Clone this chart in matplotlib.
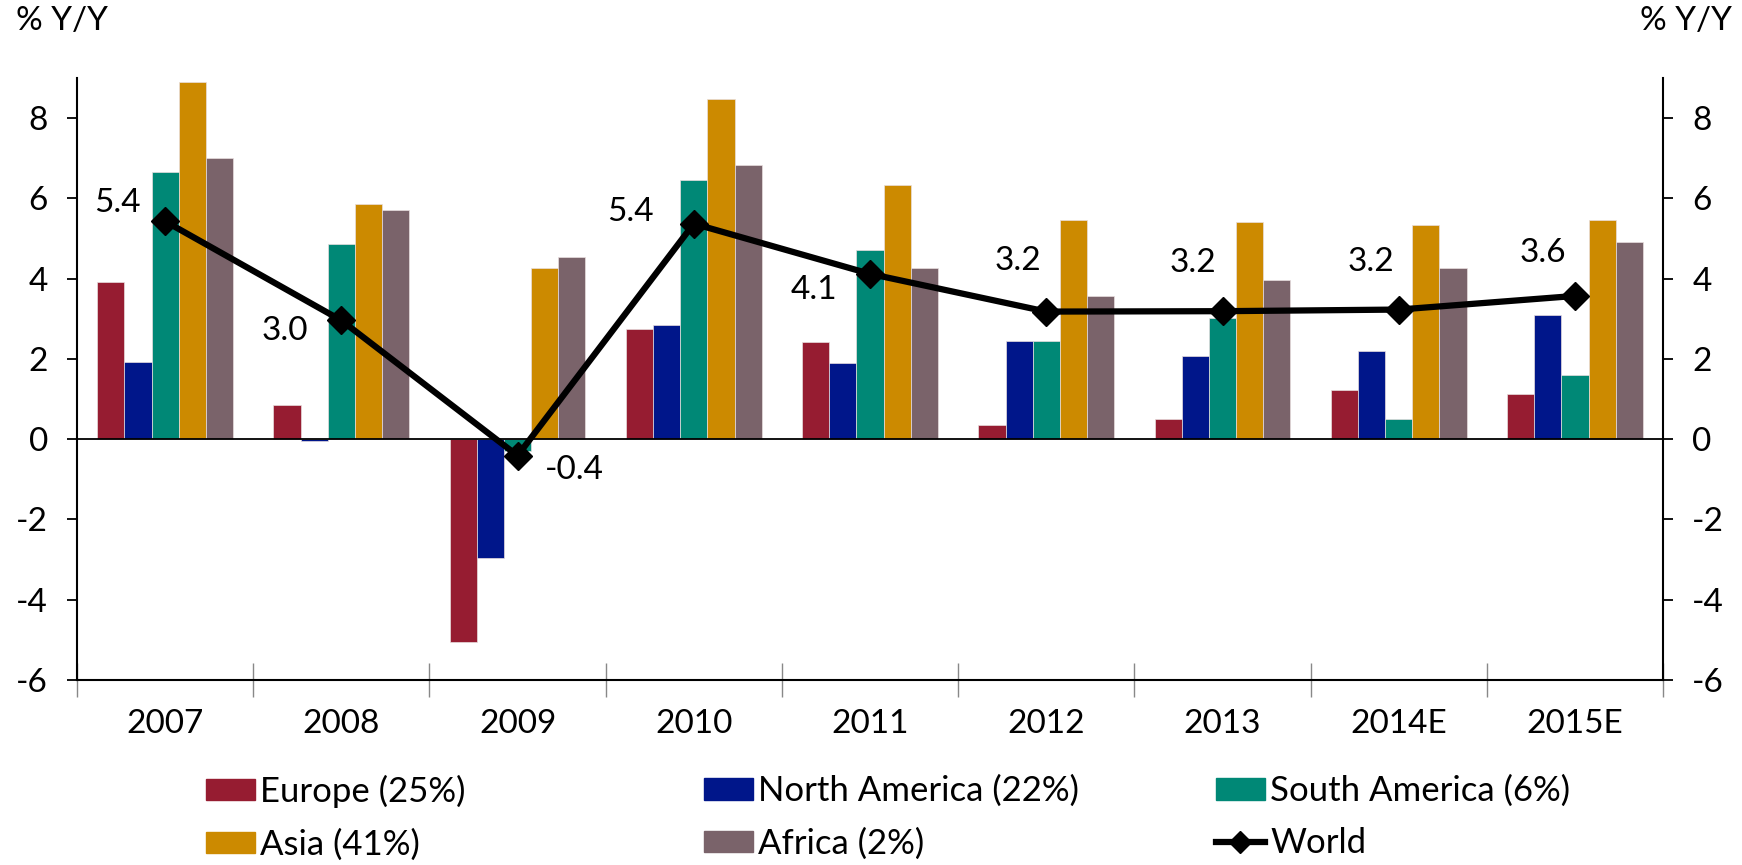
import numpy as np
import matplotlib
matplotlib.use('Agg')
import matplotlib.pyplot as plt
from matplotlib.patches import Patch
from matplotlib.lines import Line2D

# data
years = ['2007', '2008', '2009', '2010', '2011', '2012', '2013', '2014E', '2015E']
europe = [3.92, 0.85, -5.06, 2.74, 2.42, 0.36, 0.51, 1.23, 1.12]
north_america = [1.92, -0.04, -2.95, 2.84, 1.91, 2.44, 2.07, 2.21, 3.09]
south_america = [6.67, 4.86, -0.29, 6.46, 4.71, 2.44, 3.03, 0.51, 1.59]
asia = [8.89, 5.85, 4.26, 8.47, 6.33, 5.46, 5.41, 5.34, 5.45]
africa = [7.00, 5.70, 4.54, 6.84, 4.27, 3.56, 3.96, 4.27, 4.91]
world = [5.43, 2.96, -0.41, 5.37, 4.12, 3.18, 3.19, 3.23, 3.57]
world_labels = ['5.4', '3.0', '-0.4', '5.4', '4.1', '3.2', '3.2', '3.2', '3.6']

plt.rcParams['font.family'] = ['Lato', 'DejaVu Sans']
plt.rcParams['axes.unicode_minus'] = False
FS = 24
LFS = 25

fig = plt.figure(figsize=(17.42, 8.65), dpi=100)
ax = fig.add_axes([0.0442, 0.2139, 0.9105, 0.6959])

series = [
    (europe, '#961C31', 'Europe (25%)'),
    (north_america, '#00168A', 'North America (22%)'),
    (south_america, '#008876', 'South America (6%)'),
    (asia, '#CC8A00', 'Asia (41%)'),
    (africa, '#7A636A', 'Africa (2%)'),
]

x = np.arange(len(years))
w = 0.154
for i, (vals, col, lab) in enumerate(series):
    ax.bar(x + (i - 2) * w, vals, w, color=col, edgecolor='#e8dede', linewidth=0.5, zorder=2)

ax.axhline(0, color='black', lw=1.3, zorder=3)
ax.plot(x, world, color='black', lw=4.5, marker='D', markersize=14, zorder=5)

# label offsets (dx in categories, dy in % points)
offsets = [(-0.27, 0.46), (-0.32, -0.27), (0.32, -0.37), (-0.36, 0.29), (-0.32, -0.41),
           (-0.16, 1.26), (-0.17, 1.2), (-0.16, 1.18), (-0.18, 1.07)]
for xi, yi, lab, (dx, dy) in zip(x, world, world_labels, offsets):
    ax.text(xi + dx, yi + dy, lab, fontsize=FS, ha='center', va='center', zorder=6)

ax.set_xlim(-0.5, len(years) - 0.5)
ax.set_ylim(-6, 9)
ax.set_yticks(np.arange(-6, 9, 2))
ax.set_xticks(x)
ax.set_xticklabels(years, fontsize=FS)
ax.set_xticks(np.arange(-0.5, len(years), 1), minor=True)
ax.tick_params(axis='x', which='major', length=0, pad=21)
ax.tick_params(axis='x', which='minor', direction='inout', length=24, color='#888888', width=1)
ax.tick_params(axis='y', which='major', labelsize=FS, direction='out', length=7, width=1.3,
               pad=14, left=True, right=True, labelleft=True, labelright=True)

ax.spines['top'].set_visible(False)
for s in ['left', 'right', 'bottom']:
    ax.spines[s].set_linewidth(1.5)

fig.text(0.009, 0.976, '% Y/Y', fontsize=FS, ha='left', va='center')
fig.text(0.994, 0.976, '% Y/Y', fontsize=FS, ha='right', va='center')

# legend split in three columns
handles = [Patch(color=c, label=l) for _, c, l in series]
world_h = Line2D([], [], color='black', lw=4.5, marker='D', markersize=11, label='World')
cols = [([handles[0], handles[3]], 0.118), ([handles[1], handles[4]], 0.404),
        ([handles[2], world_h], 0.698)]
for hs, xpos in cols:
    fig.legend(handles=hs, loc='upper left', bbox_to_anchor=(xpos, 0.1044), frameon=False,
               fontsize=LFS, handlelength=1.41, handleheight=0.58, handletextpad=0.15,
               labelspacing=0.59, borderaxespad=0, borderpad=0)

plt.savefig('out.png')
